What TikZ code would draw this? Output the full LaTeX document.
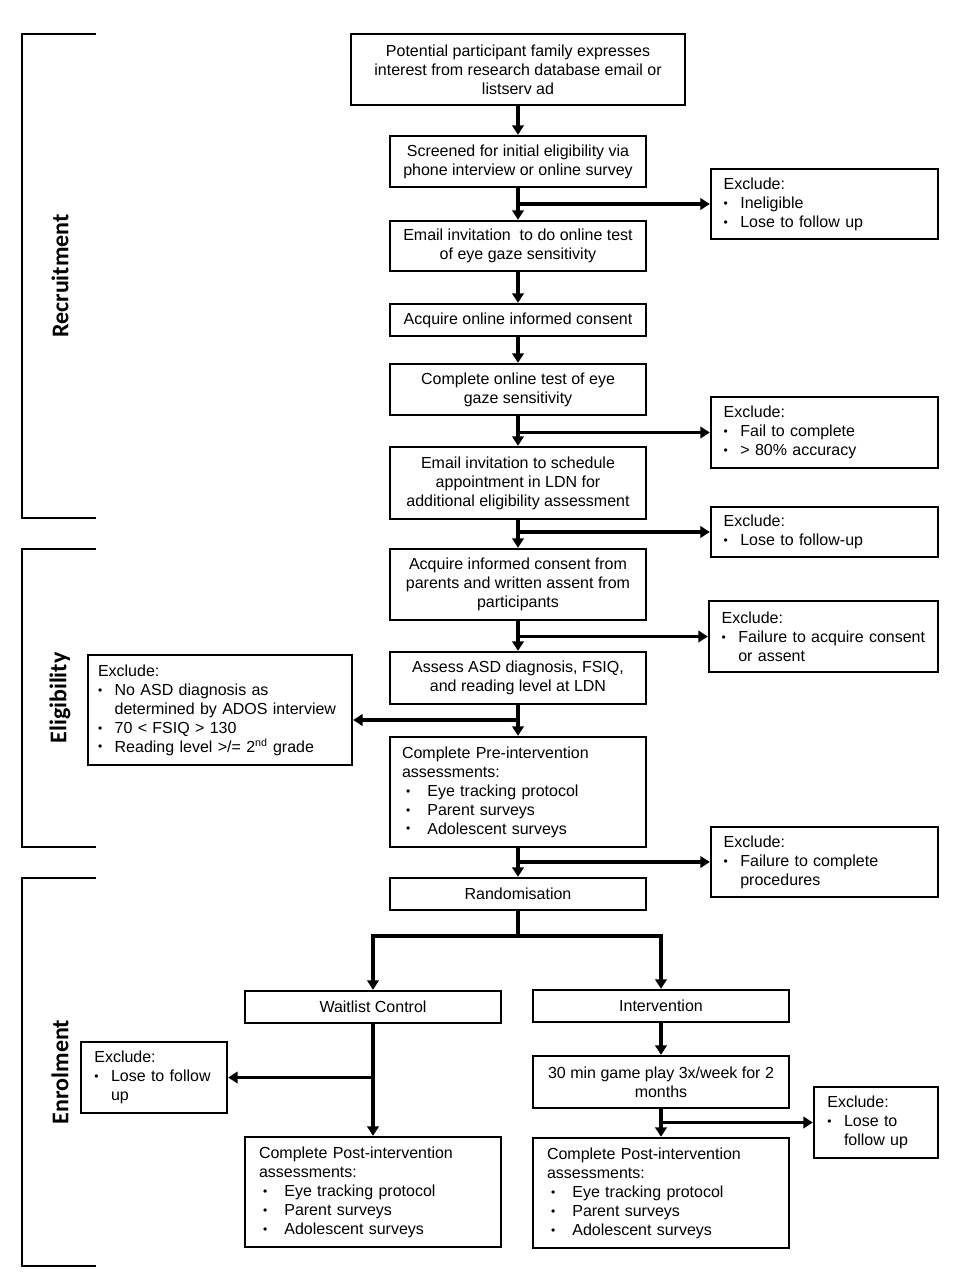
\documentclass[tikz,border=0pt]{standalone}
\usepackage{fontspec}
\setmainfont{Liberation Sans}
\newfontfamily\sidefont{Carlito}
\usetikzlibrary{arrows.meta}
\begin{document}
\begin{tikzpicture}[x=0.75pt,y=-0.75pt,
  box/.style={draw, line width=1.8pt, align=center, inner sep=2pt,
    font=\fontsize{12}{14.2}\selectfont},
  cbox/.style={box, minimum width=192pt},
  lbox/.style={box, align=left, inner xsep=9.5pt},
  arr/.style={line width=2.4pt, -{Triangle[length=7pt,width=8.5pt]}},
  ln/.style={line width=2.4pt},
  brk/.style={line width=1.4pt},
  side/.style={font=\sidefont\bfseries\fontsize{18}{20}\selectfont, rotate=90}]
\useasboundingbox (0,0) rectangle (960,1280);
\newcommand{\dotb}{\raisebox{0.12ex}{\scalebox{0.75}{•}}}
\newcommand{\bu}{\makebox[12.5pt][l]{\dotb}}
\newcommand{\bi}{\hspace*{12.5pt}}
\newcommand{\bb}{\makebox[19pt][l]{\hspace{3pt}\dotb}}

% brackets
\draw[brk] (96,34) -- (22,34) -- (22,518) -- (96,518);
\draw[brk] (96,549) -- (22,549) -- (22,847) -- (96,847);
\draw[brk] (96,878) -- (22,878) -- (22,1266) -- (96,1266);
\node[side] (lrec) at (60,276) {Recruitment};
\node[side] (lel) at (60,698) {Eligibility};
\node[side] (len) at (60,1072) {Enrolment};

% main column
\node[box, minimum width=250.5pt, minimum height=53.25pt] (n1) at (518,69.5)
  {Potential participant family expresses\\interest from research database email or\\listserv ad};
\node[cbox, minimum height=38.25pt] (n2) at (518,161.5)
  {Screened for initial eligibility via\\phone interview or online survey};
\node[cbox, minimum height=37.5pt] (n3) at (518,246)
  {Email invitation\ \ to do online test\\of eye gaze sensitivity};
\node[cbox, minimum height=24pt] (n4) at (518,320)
  {Acquire online informed consent};
\node[cbox, minimum height=38.25pt] (n5) at (518,389.5)
  {Complete online test of eye\\gaze sensitivity};
\node[cbox, minimum height=54pt] (n6) at (518,483)
  {Email invitation to schedule\\appointment in LDN for\\additional eligibility assessment};
\node[cbox, minimum height=53.25pt] (n7) at (518,584.5)
  {Acquire informed consent from\\parents and written assent from\\participants};
\node[cbox, minimum height=39pt] (n8) at (518,678)
  {Assess ASD diagnosis, FSIQ,\\and reading level at LDN};
\node[lbox, inner xsep=9pt, text width=174pt, minimum height=82.5pt] (n9) at (518,792)
  {Complete Pre-intervention\\assessments:\\\bb Eye tracking protocol\\\bb Parent surveys\\\bb Adolescent surveys};
\node[cbox, minimum height=24pt] (n10) at (518,894) {Randomisation};
\node[cbox, minimum height=24pt] (wl) at (373,1007) {Waitlist Control};
\node[cbox, minimum height=24pt] (iv) at (661,1006) {Intervention};
\node[cbox, minimum height=39pt] (gp) at (661,1082)
  {30 min game play 3x/week for 2\\months};
\node[lbox, inner xsep=10.5pt, text width=171pt, minimum height=82.5pt] (pl) at (373,1192)
  {Complete Post-intervention\\assessments:\\\bb Eye tracking protocol\\\bb Parent surveys\\\bb Adolescent surveys};
\node[lbox, inner xsep=10.5pt, text width=171pt, minimum height=82.5pt] (pr) at (661,1193)
  {Complete Post-intervention\\assessments:\\\bb Eye tracking protocol\\\bb Parent surveys\\\bb Adolescent surveys};

% exclusion boxes
\node[lbox, text width=151.25pt, minimum height=52.5pt] (e1) at (824.5,204)
  {Exclude:\\\bu Ineligible\\\bu Lose to follow up};
\node[lbox, text width=151.25pt, minimum height=53.25pt] (e2) at (824.5,432.5)
  {Exclude:\\\bu Fail to complete\\\bu > 80\% accuracy};
\node[lbox, text width=151.25pt, minimum height=37.5pt] (e3) at (824.5,532)
  {Exclude:\\\bu Lose to follow-up};
\node[lbox, text width=152.75pt, minimum height=53.25pt] (e4) at (823.5,636.5)
  {Exclude:\\\bu Failure to acquire consent\\\bi or assent};
\node[lbox, inner xsep=7.5pt, text width=183pt, minimum height=82.5pt] (e5) at (220,710)
  {Exclude:\\\bu No ASD diagnosis as\\\bi determined by ADOS interview\\\bu 70 < FSIQ > 130\\\bu Reading level >/= 2\textsuperscript{nd} grade};
\node[lbox, text width=151.25pt, minimum height=52.5pt] (e6) at (824.5,862)
  {Exclude:\\\bu Failure to complete\\\bi procedures};
\node[lbox, inner xsep=10pt, text width=89.5pt, minimum height=53.25pt] (e7) at (154,1077.5)
  {Exclude:\\\bu Lose to follow\\\bi up};
\node[lbox, inner xsep=10pt, text width=73pt, minimum height=53.25pt] (e8) at (876,1122.5)
  {Exclude:\\\bu Lose to\\\bi follow up};

% connectors
\draw[arr] (n1) -- (n2);
\draw[arr] (n2) -- (n3);
\draw[arr] (n3) -- (n4);
\draw[arr] (n4) -- (n5);
\draw[arr] (n5) -- (n6);
\draw[arr] (n6) -- (n7);
\draw[arr] (n7) -- (n8);
\draw[arr] (n8) -- (n9);
\draw[arr] (n9) -- (n10);
\draw[arr] (n2.south |- e1.west) -- (e1.west);
\draw[arr] (n5.south |- e2.west) -- (e2.west);
\draw[arr] (n6.south |- e3.west) -- (e3.west);
\draw[arr] (n7.south |- e4.west) -- (e4.west);
\coordinate (j5) at (518,720);
\draw[arr] (j5) -- (e5.east |- j5);
\draw[arr] (n9.south |- e6.west) -- (e6.west);
\coordinate (rb) at (518,936);
\draw[ln] (n10.south) -- (rb);
\draw[arr] (rb) -| (wl.north);
\draw[arr] (rb) -| (iv.north);
\draw[arr] (wl) -- (pl);
\draw[arr] (wl.south |- e7.east) -- (e7.east);
\draw[arr] (iv) -- (gp);
\draw[arr] (gp) -- (pr);
\draw[arr] (gp.south |- e8.west) -- (e8.west);
\end{tikzpicture}
\end{document}
